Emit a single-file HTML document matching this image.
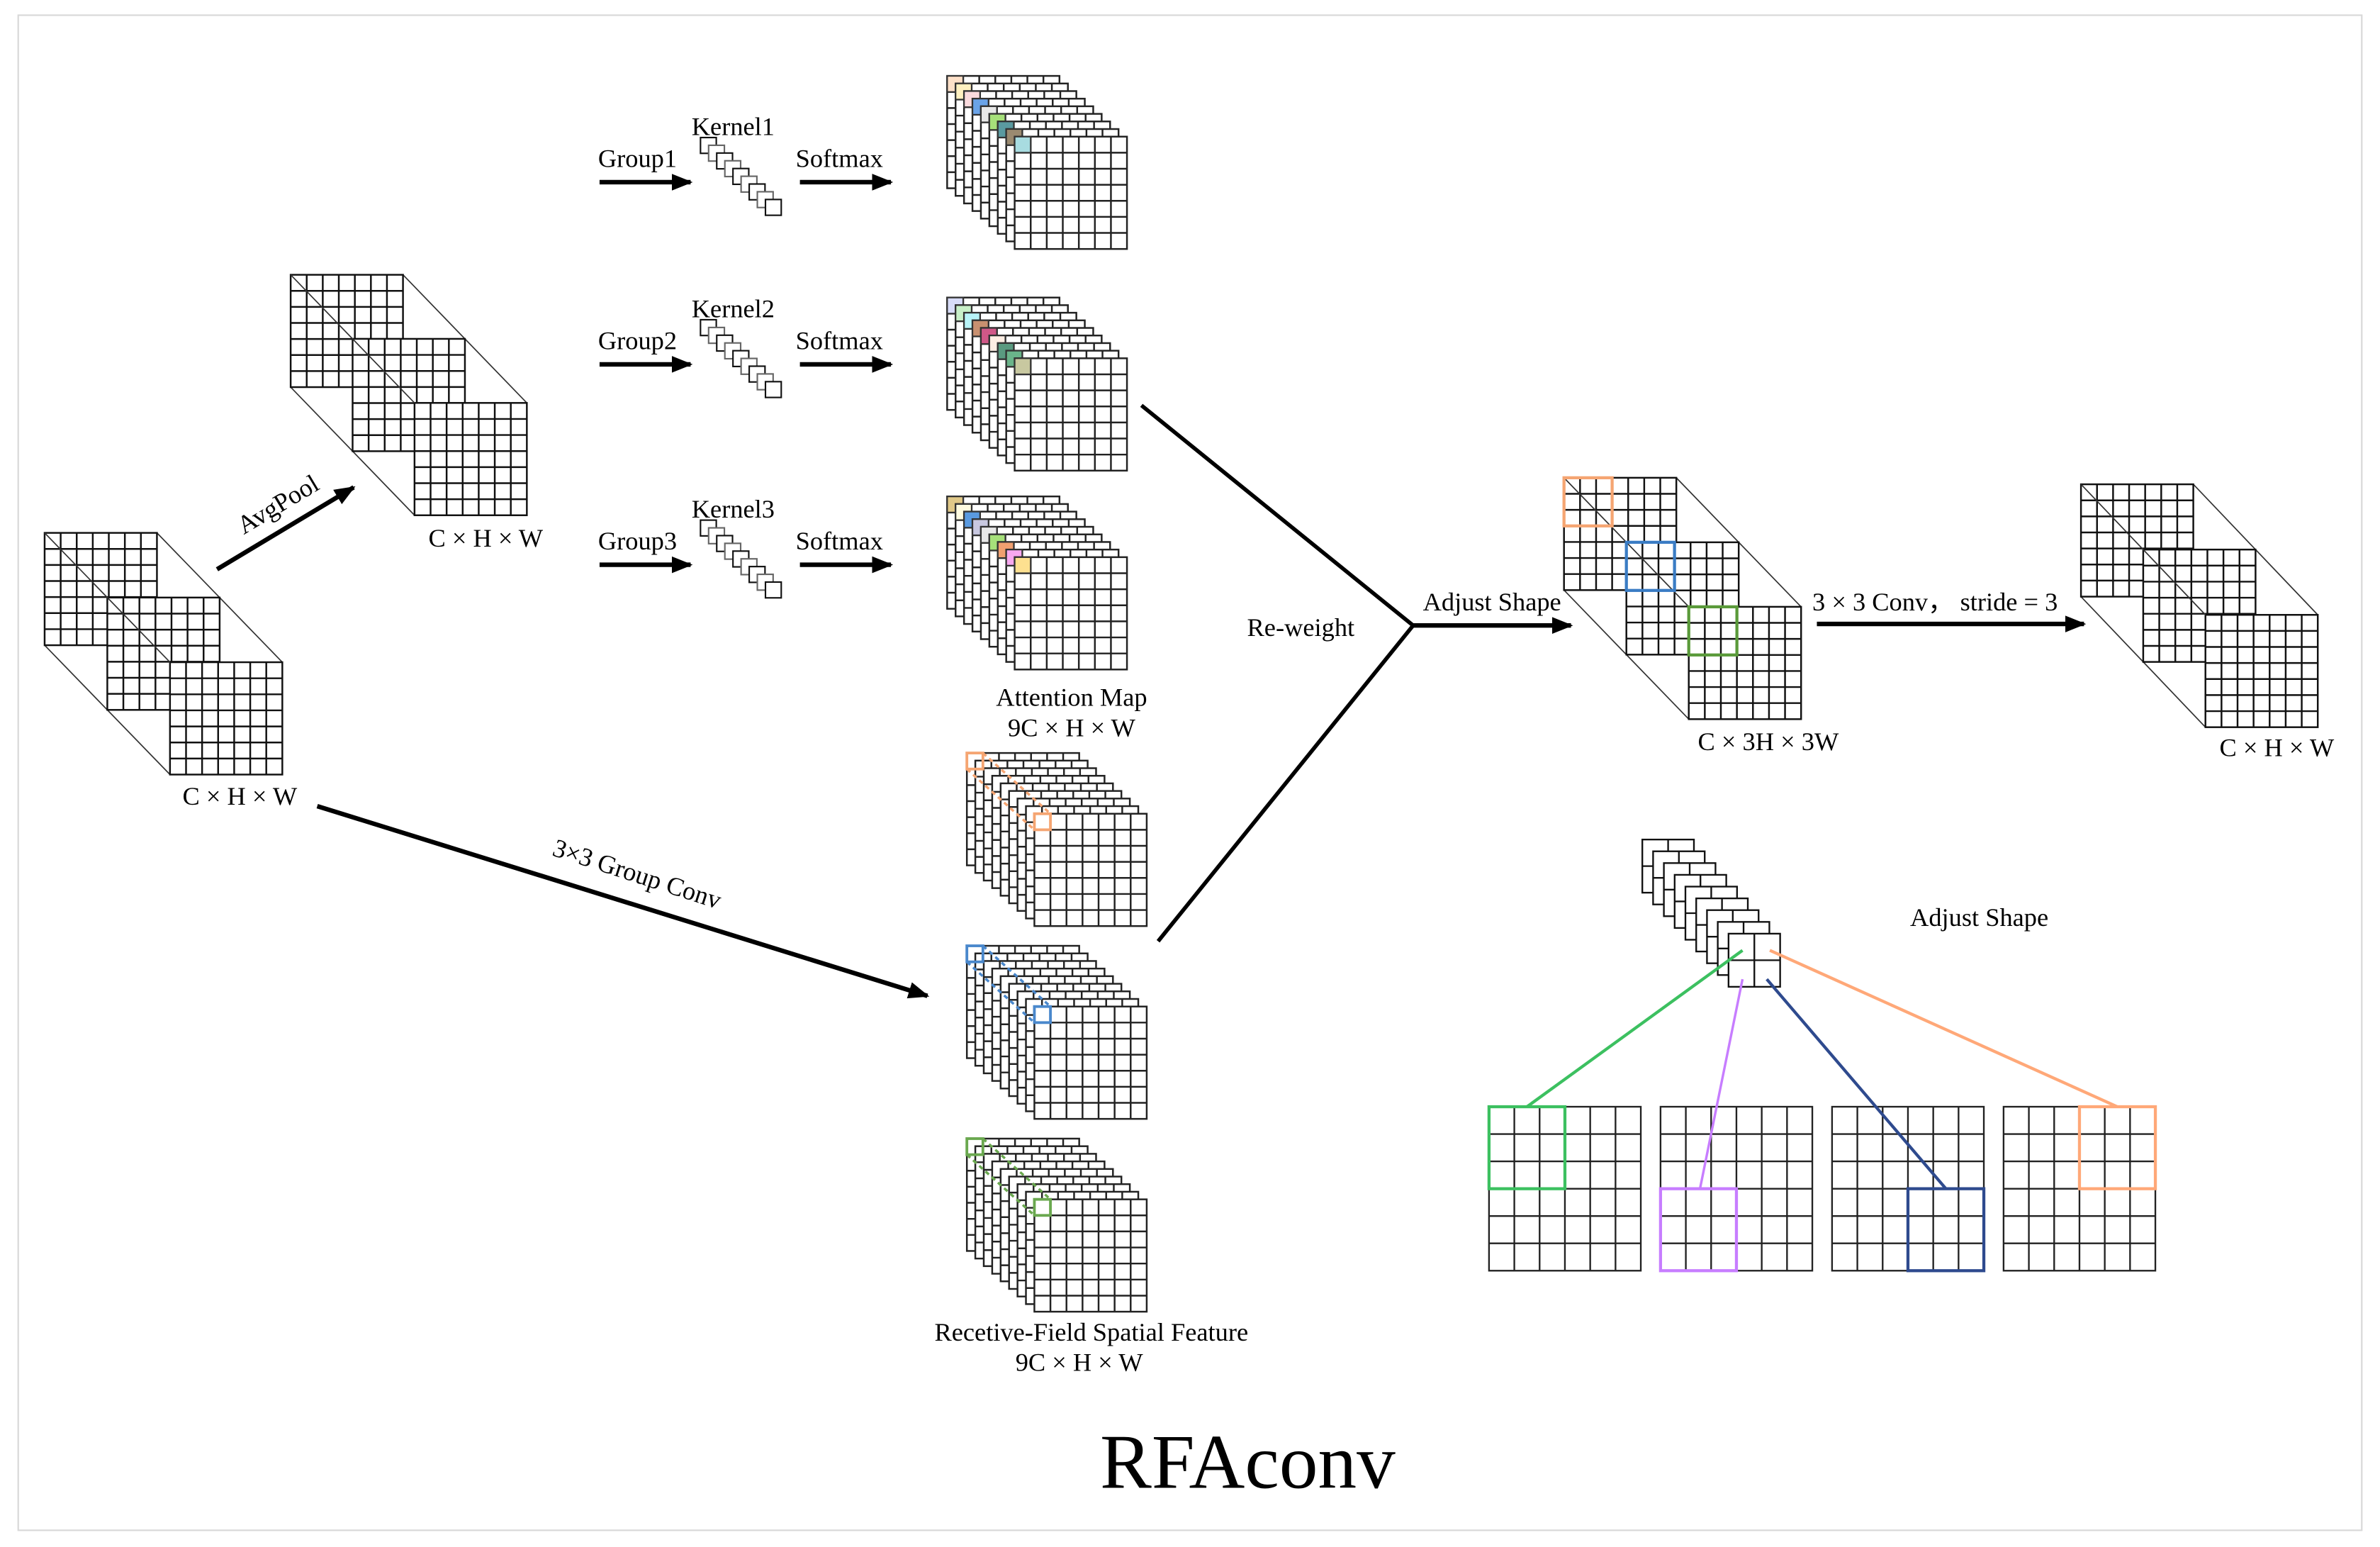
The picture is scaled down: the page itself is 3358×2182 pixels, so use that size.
<!DOCTYPE html>
<html><head><meta charset="utf-8">
<style>
html,body{margin:0;padding:0;background:#fff;}
svg{display:block;}
text{font-family:"Liberation Serif",serif;fill:#000;}
</style></head>
<body>
<svg id="s" width="3358" height="2182" viewBox="0 0 1568 1019" preserveAspectRatio="none" xmlns="http://www.w3.org/2000/svg">
<defs>
<marker id="ah" viewBox="0 0 10 10" refX="9" refY="5" markerWidth="4.6" markerHeight="4.6" orient="auto" markerUnits="strokeWidth">
<path d="M0,1 L10,5 L0,9 Z" fill="#000"/></marker>
</defs>
<rect x="12" y="10" width="1544" height="998" fill="#fff" stroke="#d8d8d8" stroke-width="1"/>
<g id="g"></g>
<g stroke="#000" stroke-width="3" fill="none">
<line x1="143" y1="375" x2="233" y2="321" marker-end="url(#ah)"/>
<line x1="209" y1="531" x2="611" y2="656" marker-end="url(#ah)"/>
<line x1="395" y1="120" x2="455" y2="120" marker-end="url(#ah)"/>
<line x1="527" y1="120" x2="587" y2="120" marker-end="url(#ah)"/>
<line x1="395" y1="240" x2="455" y2="240" marker-end="url(#ah)"/>
<line x1="527" y1="240" x2="587" y2="240" marker-end="url(#ah)"/>
<line x1="395" y1="372" x2="455" y2="372" marker-end="url(#ah)"/>
<line x1="527" y1="372" x2="587" y2="372" marker-end="url(#ah)"/>
<polyline points="752,267 931,412 763,620" stroke-width="2.6"/>
<line x1="931" y1="412" x2="1035" y2="412" marker-end="url(#ah)"/>
<line x1="1197" y1="411" x2="1373" y2="411" marker-end="url(#ah)"/>
</g>
<g font-size="17">
<text x="420" y="110" text-anchor="middle">Group1</text>
<text x="420" y="230" text-anchor="middle">Group2</text>
<text x="420" y="362" text-anchor="middle">Group3</text>
<text x="483" y="89" text-anchor="middle">Kernel1</text>
<text x="483" y="209" text-anchor="middle">Kernel2</text>
<text x="483" y="341" text-anchor="middle">Kernel3</text>
<text x="553" y="110" text-anchor="middle">Softmax</text>
<text x="553" y="230" text-anchor="middle">Softmax</text>
<text x="553" y="362" text-anchor="middle">Softmax</text>
<text x="706" y="465" text-anchor="middle">Attention Map</text>
<text x="706" y="485" text-anchor="middle">9C × H × W</text>
<text x="719" y="883" text-anchor="middle">Recetive-Field Spatial Feature</text>
<text x="711" y="903" text-anchor="middle">9C × H × W</text>
<text x="857" y="419" text-anchor="middle">Re-weight</text>
<text x="983" y="402" text-anchor="middle">Adjust Shape</text>
<text x="1194" y="402">3 × 3 Conv，  stride = 3</text>
<text x="1304" y="610" text-anchor="middle">Adjust Shape</text>
<text x="1165" y="494" text-anchor="middle">C × 3H × 3W</text>
<text x="158" y="530" text-anchor="middle">C × H × W</text>
<text x="320" y="360" text-anchor="middle">C × H × W</text>
<text x="1500" y="498" text-anchor="middle">C × H × W</text>
<text x="0" y="0" transform="translate(186,337) rotate(-31)" text-anchor="middle">AvgPool</text>
<text x="0" y="0" transform="translate(418,581) rotate(18)" text-anchor="middle">3×3 Group Conv</text>
</g>
<text x="822" y="980" text-anchor="middle" font-size="51">RFAconv</text>
</svg>
<script>
var NS="http://www.w3.org/2000/svg",G=document.getElementById('g');
function el(t,a){var e=document.createElementNS(NS,t);for(var k in a)e.setAttribute(k,a[k]);G.appendChild(e);return e;}
function grid(x,y,w,h,nc,nr,sw,col){
 el('rect',{x:x,y:y,width:w,height:h,fill:'#fff',stroke:col||'#222','stroke-width':sw||0.9});
 var d='';for(var i=1;i<nc;i++){var xx=x+w*i/nc;d+='M'+xx+','+y+'V'+(y+h);}
 for(var j=1;j<nr;j++){var yy=y+h*j/nr;d+='M'+x+','+yy+'H'+(x+w);}
 el('path',{d:d,stroke:col||'#222','stroke-width':sw||0.9,fill:'none'});
}
function stack(x0,y0,colors,outline){
 var dx=5.56,dy=5,S=74,c=S/7;
 for(var k=0;k<9;k++){var x=x0+k*dx,y=y0+k*dy;grid(x,y,S,S,7,7,1.15,'#222');
  if(colors)el('rect',{x:x,y:y,width:c,height:c,fill:colors[k],stroke:'#333','stroke-width':1});}
 if(outline){
  el('line',{x1:x0+c,y1:y0,x2:x0+8*dx+c,y2:y0+8*dy,stroke:outline,'stroke-width':1.6,'stroke-dasharray':'3,2.5'});
  el('line',{x1:x0,y1:y0+c,x2:x0+8*dx,y2:y0+8*dy+c,stroke:outline,'stroke-width':1.6,'stroke-dasharray':'3,2.5'});
  el('rect',{x:x0,y:y0,width:c,height:c,fill:'none',stroke:outline,'stroke-width':1.8});
  el('rect',{x:x0+8*dx,y:y0+8*dy,width:c,height:c,fill:'none',stroke:outline,'stroke-width':1.8});
 }
}
function cube(x0,y0,ox,oy,hl){
 var S=74;
 el('line',{x1:x0+S,y1:y0,x2:x0+2*ox+S,y2:y0+2*oy,stroke:'#333','stroke-width':0.8});
 el('line',{x1:x0,y1:y0+S,x2:x0+2*ox,y2:y0+2*oy+S,stroke:'#333','stroke-width':0.8});
 for(var k=0;k<3;k++)grid(x0+k*ox,y0+k*oy,S,S,7,7,1.15,'#111');
 el('line',{x1:x0,y1:y0,x2:x0+2*ox,y2:y0+2*oy,stroke:'#333','stroke-width':0.8});
 if(hl){var c=S/7;for(var k=0;k<3;k++)el('rect',{x:x0+k*ox,y:y0+k*oy,width:3*c,height:3*c,fill:'none',stroke:hl[k],'stroke-width':2});}
}
cube(29.4,351,41.3,42.6);
cube(191.5,181,40.8,42.2);
cube(1030.4,314.7,41.1,42.5,['#f5a572','#3a7cc4','#5a9a3a']);
cube(1371,319,41,43);
function kern(x0,y0){for(var k=0;k<9;k++){el('rect',{x:x0+k*5.35,y:y0+k*5.1,width:10.4,height:10.4,fill:'#fff',stroke:k%2?'#666':'#111','stroke-width':1});}}
kern(461.5,90.6);kern(461.5,210.6);kern(461.5,342.6);
stack(624,50,['#fde0c8','#fff0c0','#fadadd','#6aa3e8','#e8e8e8','#a6e07a','#5a9aa0','#9a8a70','#a8dce0']);
stack(624,196,['#d8dcf8','#c8f0c8','#b8f4f8','#c89070','#d05888','#fdeee4','#5a9a80','#6ab48a','#c8c8a0']);
stack(624,327,['#e0c888','#fffbe0','#5a9ae0','#c8c8e0','#e8e8e8','#a6e07a','#f0a070','#f8a8f0','#fde090']);
stack(637,496,null,'#f5a572');
stack(637,623,null,'#4a88cc');
stack(637,750,null,'#6aa84f');
for(var k=0;k<9;k++)grid(1082+k*7.1,553+k*7.75,34,35,2,2,1.1,'#111');
var gx=[981,1094,1207,1320];for(var i=0;i<4;i++)grid(gx[i],729,100,108,6,6,1.1,'#222');
var cw=100/6,ch=108/6;
var hl=[[981,729,'#3cc060'],[1094,783,'#c77dff'],[1257,783,'#2e4a8e'],[1370,729,'#ffa878']];
hl.forEach(function(h){el('rect',{x:h[0],y:h[1],width:3*cw,height:3*ch,fill:'none',stroke:h[2],'stroke-width':2});});
el('line',{x1:1148,y1:626,x2:1006,y2:729,stroke:'#3cc060','stroke-width':2});
el('line',{x1:1148,y1:645,x2:1120,y2:783,stroke:'#c77dff','stroke-width':1.6});
el('line',{x1:1164,y1:645,x2:1282,y2:783,stroke:'#2e4a8e','stroke-width':2});
el('line',{x1:1166,y1:626,x2:1395,y2:729,stroke:'#ffa878','stroke-width':2});
</script>
</body></html>
